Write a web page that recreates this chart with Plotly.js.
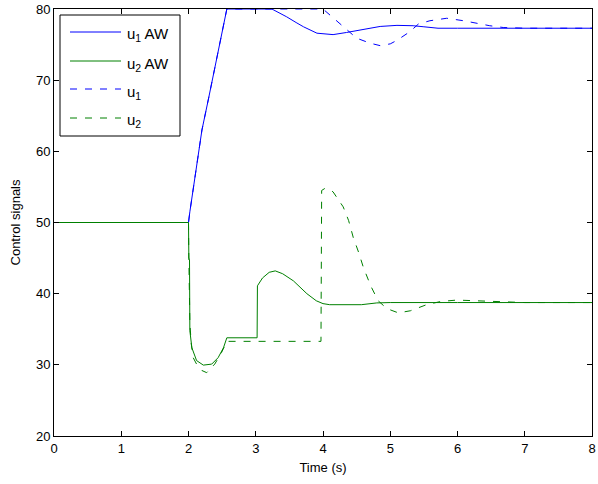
<!DOCTYPE html>
<html>
<head>
<meta charset="utf-8">
<script src="https://cdn.plot.ly/plotly-3.0.1.min.js"></script>
<style>html,body{margin:0;padding:0;background:#fff;}#chart{width:598px;height:484px;}</style>
</head>
<body>
<div id="chart"></div>
<script>
// u1 AW (blue solid)
const u1AW_t = [0, 2.0, 2.02, 2.05, 2.1, 2.15, 2.2, 2.3, 2.4, 2.5, 2.57, 3.24, 3.35, 3.46, 3.6, 3.71, 3.91, 4.05, 4.15, 4.35, 4.6, 4.85, 5.1, 5.34, 5.5, 5.71, 6, 7, 8];
const u1AW_v = [50, 50, 51.5, 53.5, 57, 60, 63, 67.5, 72, 76.5, 80, 80, 79.5, 78.9, 78.1, 77.5, 76.6, 76.45, 76.4, 76.7, 77.1, 77.55, 77.7, 77.65, 77.5, 77.3, 77.3, 77.3, 77.3];
// u2 AW (green solid)
const u2AW_t = [0, 2.0, 2.005, 2.015, 2.02, 2.05, 2.12, 2.22, 2.345, 2.44, 2.52, 2.57, 3.02, 3.025, 3.1, 3.2, 3.29, 3.4, 3.56, 3.76, 3.9, 4.0, 4.1, 4.57, 4.8, 5, 6, 7, 8];
const u2AW_v = [50, 50, 45, 44.8, 34.8, 32.4, 30.6, 29.96, 30.1, 31.0, 32.4, 33.8, 33.8, 41.1, 42.2, 43.0, 43.2, 42.8, 41.8, 40.0, 39.0, 38.6, 38.45, 38.45, 38.7, 38.75, 38.75, 38.75, 38.75];
// u1 (blue dashed)
const u1_t = [0, 2.0, 2.02, 2.05, 2.1, 2.15, 2.2, 2.3, 2.4, 2.5, 2.57, 4.0, 4.15, 4.3, 4.5, 4.7, 4.85, 5.0, 5.1, 5.29, 5.42, 5.59, 5.84, 6.09, 6.28, 6.48, 6.68, 7, 8];
const u1_v = [50, 50, 51.5, 53.5, 57, 60, 63, 67.5, 72, 76.5, 80, 80, 78.8, 77.5, 75.9, 75.2, 74.85, 75.1, 75.6, 76.8, 77.9, 78.35, 78.7, 78.35, 78.0, 77.65, 77.4, 77.3, 77.3];
// u2 (green dashed)
const u2_t = [0, 2.0, 2.005, 2.02, 2.04, 2.07, 2.12, 2.2, 2.27, 2.39, 2.49, 2.57, 3.97, 3.98, 4.03, 4.08, 4.15, 4.3, 4.38, 4.45, 4.53, 4.6, 4.68, 4.72, 4.82, 4.95, 5.12, 5.3, 5.54, 5.75, 5.99, 6.3, 6.63, 7, 8];
const u2_v = [50, 50, 45, 36, 33, 31.0, 30.1, 29.2, 28.9, 30.1, 31.7, 33.3, 33.3, 54.5, 54.8, 54.7, 54.3, 52.2, 50.3, 47.9, 45.8, 43.7, 41.8, 40.9, 39.0, 37.9, 37.3, 37.6, 38.45, 38.9, 39.1, 39.0, 38.8, 38.75, 38.75];

const xTicks = [0, 1, 2, 3, 4, 5, 6, 7, 8];
const yTicks = [20, 30, 40, 50, 60, 70, 80];
const names = ['u<sub>1</sub> AW', 'u<sub>2</sub> AW', 'u<sub>1</sub>', 'u<sub>2</sub>'];

const blue = 'rgb(0,0,255)';
const green = 'rgb(0,128,0)';
const dash = '7px,8px';

const styles = [
  {color: blue, width: 1},
  {color: green, width: 1},
  {color: blue, width: 1, dash: dash},
  {color: green, width: 1, dash: dash}
];
const series = [[u1AW_t, u1AW_v], [u2AW_t, u2AW_v], [u1_t, u1_v], [u2_t, u2_v]];

const traces = series.map((s, i) => ({
  x: s[0], y: s[1], name: names[i], mode: 'lines', line: styles[i], showlegend: false
}));

// Manual legend (paper coordinates), matching the boxed legend of the reference
const W = 538, H = 427; // plot area size in px
const px = v => (v - 54) / W;
const py = v => (436 - v) / H;
const legendRows = [32, 61, 89, 118];
const shapes = [{
  type: 'rect', xref: 'paper', yref: 'paper', layer: 'above',
  x0: px(60), x1: px(180), y0: py(136), y1: py(15),
  line: {color: '#000', width: 1}, fillcolor: '#fff'
}];
const annotations = [];
legendRows.forEach((r, i) => {
  shapes.push({
    type: 'line', xref: 'paper', yref: 'paper', layer: 'above',
    x0: px(70), x1: px(121), y0: py(r), y1: py(r), line: styles[i]
  });
  annotations.push({
    xref: 'paper', yref: 'paper', x: px(125), y: py(r + 3),
    xanchor: 'left', yanchor: 'middle', showarrow: false, text: names[i],
    font: {family: 'Liberation Sans, Arial, sans-serif', size: 15, color: '#000'}
  });
});

const axisCommon = {
  showgrid: false, zeroline: false, showline: true, mirror: 'ticks',
  linecolor: '#000', linewidth: 1, ticks: 'inside', ticklen: 5, tickcolor: '#000',
  tickfont: {family: 'Liberation Sans, Arial, sans-serif', size: 13, color: '#000'}
};

const layout = {
  width: 598, height: 484,
  margin: {l: 54, r: 6, t: 9, b: 48},
  paper_bgcolor: '#fff', plot_bgcolor: '#fff',
  font: {family: 'Liberation Sans, Arial, sans-serif', size: 13, color: '#000'},
  xaxis: Object.assign({}, axisCommon, {
    range: [0, 8], tickvals: xTicks, ticktext: xTicks.map(String),
    title: {text: 'Time (s)', font: {size: 13}, standoff: 8}
  }),
  yaxis: Object.assign({}, axisCommon, {
    range: [20, 80], tickvals: yTicks, ticktext: yTicks.map(String),
    title: {text: 'Control signals', font: {size: 13}, standoff: 12}
  }),
  showlegend: false,
  shapes: shapes,
  annotations: annotations
};

Plotly.newPlot('chart', traces, layout, {displayModeBar: false, staticPlot: true});
</script>
</body>
</html>
